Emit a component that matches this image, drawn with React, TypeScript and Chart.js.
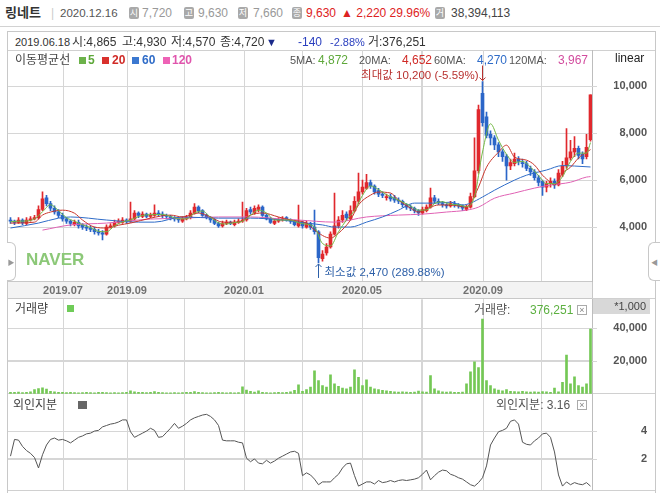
import React, { useEffect, useRef } from 'react';
import { Chart, registerables } from 'chart.js';

Chart.register(...registerables);

const FONT = "'Liberation Sans', 'Noto Sans CJK KR', Arial, sans-serif";

// ---------------- data (one entry per candle, ~2.8 trading days each) ----------------
const opens = [4300,4250,4200,4300,4150,4300,4350,4400,4750,5250,
 5000,4800,4650,4500,4350,4250,4100,4200,4100,4000,
 3950,3900,3800,3750,3700,4000,4050,4200,4200,4300,
 4250,4350,4600,4450,4550,4450,4500,4600,4550,4500,
 4450,4400,4350,4250,4350,4400,4600,4850,4700,4500,
 4400,4300,4150,4050,4150,4200,4100,4200,4250,4300,
 4750,4600,4750,4850,4500,4350,4150,4250,4300,4400,
 4300,4250,4050,4200,4000,4150,4000,3800,2650,2900,
 3150,3700,4050,4300,4550,4350,4700,5100,5500,5650,
 5900,5750,5550,5400,5250,5300,5250,5150,5100,4950,
 4850,4800,4700,4600,4700,4850,5250,5100,5000,4950,
 4900,5000,4950,4900,4750,4850,5300,6400,9700,8700,
 7950,7800,7500,7200,7000,6600,6700,6900,6750,6700,
 6500,6350,6100,5950,5700,5850,5950,5800,6250,6600,
 6950,7200,7350,7100,7000,7720];
const highs = [4400,4300,4400,4350,4400,4450,4500,4900,5500,5350,
 5100,4900,4750,4600,4400,4300,4300,4300,4150,4100,
 4050,4000,3900,3850,4100,4150,4300,4350,4400,4350,
 5060,4700,4650,4650,4600,4600,4950,4700,4650,4550,
 4500,4450,4400,4450,4500,4700,5000,4900,4750,4550,
 4450,4350,4200,4250,4300,4250,4300,4350,5060,4800,
 4850,4900,4950,4900,4550,4400,4350,4400,4450,4450,
 4350,4300,4940,4250,4250,4200,4720,3850,3000,3300,
 3800,5450,4450,4700,4650,4900,5300,6300,6000,6250,
 6000,5800,5650,5500,5400,5400,5350,5250,5150,5000,
 4950,4850,4750,4850,4950,5660,5350,5200,5100,5000,
 5100,5100,5000,4950,4950,5450,7800,9200,10200,8900,
 8100,7900,7600,7300,7100,6900,7150,7000,6900,6800,
 6600,6450,6200,6000,5950,6100,6050,6450,6800,8200,
 7700,7850,7450,7200,7950,9630];
const lows = [4150,4100,4150,4100,4100,4250,4300,4350,4700,4900,
 4700,4550,4400,4250,4150,4050,4050,3950,3900,3850,
 3800,3700,3650,3450,3650,3950,4000,4150,4150,4150,
 4200,4300,4400,4400,4400,4400,4450,4450,4400,4350,
 4300,4250,4200,4200,4300,4350,4550,4600,4450,4350,
 4200,4100,3980,4000,4100,4100,4050,4150,4200,4250,
 4550,4550,4650,4450,4300,4150,4100,4200,4250,4250,
 4150,4050,4000,3950,3950,3900,3700,2470,2550,2800,
 3100,3650,3950,4200,4300,4300,4650,5000,5400,5600,
 5650,5400,5300,5250,5150,5100,5050,5000,4850,4750,
 4700,4600,4500,4550,4650,4800,5000,4950,4850,4800,
 4850,4850,4800,4700,4700,4800,5250,6300,8300,7800,
 7500,7300,7000,6800,6000,6450,6600,6650,6550,6400,
 6200,6000,5750,5350,5500,5700,5650,5750,6150,6500,
 6850,7000,6900,6700,6900,7660];
const closes = [4250,4200,4300,4180,4300,4350,4400,4750,5200,5000,
 4800,4650,4500,4350,4250,4150,4200,4050,4000,3950,
 3900,3800,3750,3700,4000,4050,4200,4250,4300,4250,
 4350,4600,4500,4550,4450,4500,4600,4550,4500,4450,
 4400,4350,4300,4350,4400,4600,4850,4700,4500,4400,
 4300,4150,4050,4150,4200,4150,4200,4250,4300,4700,
 4650,4800,4850,4500,4350,4200,4250,4300,4350,4300,
 4250,4100,4200,4050,4150,4000,3800,2700,2850,3150,
 3700,4050,4300,4500,4400,4700,5100,5500,5700,5900,
 5750,5500,5400,5350,5300,5200,5150,5100,4950,4850,
 4800,4700,4600,4750,4850,5250,5100,5050,4950,4900,
 5000,4950,4900,4800,4850,5300,6400,9000,8450,7900,
 7800,7500,7200,7000,6600,6750,6900,6800,6700,6500,
 6350,6100,5900,5700,5850,5950,5800,6300,6600,6950,
 7200,7350,7050,6900,7400,9630];
// volume in thousands of shares
const volumes = [900,800,1000,700,900,1200,2500,3200,3600,2800,
 1500,1100,900,800,700,800,700,600,700,800,
 700,600,800,900,700,600,700,600,700,800,
 1800,1200,900,800,700,900,1300,800,700,600,
 600,700,600,700,800,900,1300,800,700,600,
 600,700,800,700,600,700,600,700,4200,2200,
 1500,1000,1800,900,700,600,700,800,700,900,
 1200,2000,5400,1500,2500,4000,14000,8000,5000,4000,
 11500,6000,4500,3500,3000,4000,14500,10000,5000,8500,
 4000,3000,2500,2000,1800,1500,1200,1000,1100,1000,
 900,1000,1600,1200,1000,11000,3000,1800,1200,1000,
 1100,900,800,1000,6000,13300,19400,16000,45500,8000,
 5000,3000,2200,1800,2500,1500,1300,1200,1400,1100,
 1000,1200,1000,1300,1100,900,3500,1200,7000,23600,
 6000,10300,5000,4000,6000,39400];
// foreign ownership %
const foreignPct = [2.2,3.4,3.35,2.9,2.6,2.4,2.1,1.35,2.3,3.0,
 3.4,3.5,3.35,3.4,3.3,3.15,3.35,3.55,3.65,3.8,
 3.85,4.0,4.05,4.3,4.4,4.5,4.55,4.65,4.8,4.8,
 3.95,3.55,3.7,3.85,4.0,4.2,4.05,3.55,3.6,3.9,
 4.2,4.55,4.2,4.35,4.55,4.8,4.95,5.05,5.15,5.2,
 5.05,4.8,4.4,3.35,3.3,3.3,3.3,3.2,3.15,2.05,
 1.8,2.0,1.7,1.65,1.9,1.7,1.85,2.05,2.2,2.35,
 2.5,2.55,2.4,0.8,1.0,0.85,0.55,0.15,0.35,0.35,
 0.35,0.65,0.9,1.35,1.65,1.7,0.8,0.05,0.2,0.35,
 0.35,0.2,0.45,0.3,0.35,0.45,0.35,0.45,0.5,0.45,
 0.5,0.55,0.65,0.9,1.2,0.5,0.8,1.05,1.2,1.15,
 0.9,0.8,0.65,0.55,0.35,0.15,0.05,0.3,0.65,1.5,
 3.0,3.5,3.95,4.05,4.2,4.7,4.8,4.5,3.2,3.05,
 3.0,3.3,3.5,3.8,3.85,3.55,2.5,0.85,0.05,0.35,
 0.15,0.3,0.2,0.15,0.3,0.05];

// moving averages as [candle index, value]
const ma5: [number, number][] = [[0,4230],[2,4250],[4,4260],[6,4350],[8,4650],[10,4950],[12,4700],[14,4400],[16,4250],[18,4100],[20,3980],[22,3820],[24,3800],[26,4050],[28,4220],[30,4300],[32,4450],[34,4520],[36,4530],[38,4540],[40,4450],[42,4350],[44,4350],[46,4600],[48,4680],[50,4420],[52,4180],[54,4130],[56,4190],[58,4250],[60,4500],[62,4720],[64,4600],[66,4300],[68,4300],[70,4300],[72,4180],[74,4120],[76,4000],[78,3300],[80,3200],[82,3800],[84,4300],[86,4700],[88,5350],[90,5750],[92,5600],[94,5380],[96,5220],[98,5070],[100,4900],[102,4720],[104,4730],[106,5000],[108,5080],[110,4970],[112,4950],[114,4870],[116,5300],[118,7200],[120,8400],[122,7700],[124,7100],[126,6750],[128,6800],[130,6550],[132,6200],[134,5850],[136,5850],[138,6150],[140,6800],[142,7150],[144,7150],[145,7600]];
const ma20: [number, number][] = [[0,4170],[6,4210],[8,4510],[10,4640],[13,4720],[16,4590],[18,4300],[21,4000],[24,3960],[27,4080],[30,4170],[35,4380],[40,4510],[43,4430],[47,4600],[50,4430],[53,4210],[57,4210],[60,4510],[63,4600],[67,4430],[70,4300],[74,4170],[76,3870],[80,3530],[82,3740],[85,4300],[87,4940],[90,5360],[92,5490],[95,5450],[97,5150],[100,4810],[102,4640],[105,4850],[107,4940],[110,4940],[114,4850],[115,5020],[117,5700],[119,6550],[122,7190],[124,7490],[126,6980],[129,6850],[131,6640],[133,6210],[135,5910],[136,5790],[138,6300],[140,6550],[142,6940],[144,7190],[145,7300]];
const ma60: [number, number][] = [[0,3960],[7,4170],[12,4380],[15,4430],[24,4300],[32,4210],[36,4210],[43,4430],[52,4380],[60,4380],[68,4300],[74,4170],[78,4090],[81,4000],[85,4000],[89,4210],[93,4430],[97,4720],[101,5020],[106,5020],[110,5060],[113,4940],[115,5020],[118,5280],[121,5570],[126,6000],[129,6210],[134,6430],[138,6620],[141,6600],[145,6560]];
const ma120: [number, number][] = [[8,3870],[15,4090],[24,4170],[32,4300],[35,4340],[43,4380],[52,4430],[60,4430],[68,4340],[72,4300],[81,4210],[89,4430],[97,4510],[103,4550],[109,4640],[114,4720],[117,4850],[121,5230],[126,5450],[131,5660],[135,5790],[140,5910],[144,6130],[145,6150]];

// month boundaries (in candle-index units) and their labels
const monthTickIndex = [13.125, 29.125, 43.375, 58.375, 72.875, 87.875, 102.875, 118.125, 132.625];
const monthTickLabel = ['2019.07', '2019.09', '', '2020.01', '', '2020.05', '', '2020.09', ''];
const priceTicks = [4000, 6000, 8000, 10000];
const volumeTicks = [20000, 40000];
const foreignTicks = [2, 4];

// ---------------- styling ----------------
const UP = '#e0282d';
const DOWN = '#2b66c8';
const C5 = '#72b843';
const C20 = '#c9352b';
const C60 = '#2f6cc8';
const C120 = '#e062b4';
const GRID = '#d6d6d6';
const AXIS = '#bdbdbd';
const X_MIN = -0.625;
const X_MAX = closes.length - 0.625;

const fmt = (v: number) => Number(v).toLocaleString('en-US');
const idx = closes.map((_, i) => i);

const xScale = (labels: boolean) => ({
  type: 'linear',
  min: X_MIN,
  max: X_MAX,
  offset: false,
  grid: { display: true, color: GRID, lineWidth: 1, drawTicks: false, offset: false },
  border: { display: false },
  ticks: {
    display: labels,
    autoSkip: false,
    maxRotation: 0,
    padding: 3,
    color: '#707070',
    font: { family: FONT, size: 11, weight: 'bold' },
    callback: (_v: number, i: number) => (labels ? monthTickLabel[i] ?? '' : ''),
  },
  afterBuildTicks: (s: any) => { s.ticks = monthTickIndex.map((value) => ({ value })); },
  afterFit: (s: any) => { s.height = labels ? 18 : 0; },
});

const yScale = (min: number, max: number, ticks: number[], format: (v: number) => string) => ({
  type: 'linear',
  position: 'right',
  min,
  max,
  grid: { display: true, color: GRID, lineWidth: 1, drawTicks: false },
  border: { display: true, color: AXIS },
  ticks: {
    color: '#555',
    font: { family: FONT, size: 11, weight: 'bold', lineHeight: 0.05 },
    crossAlign: 'far',
    padding: 0,
    autoSkip: false,
    callback: (v: number) => format(v),
  },
  afterBuildTicks: (s: any) => { s.ticks = ticks.map((value) => ({ value })); },
  afterFit: (s: any) => { s.width = 55; },
});

// grid lines + short tick marks, drawn from the scales' own ticks
const gridPlugin = {
  id: 'paneGrid',
  beforeDatasetsDraw(chart: any) {
    const { ctx, chartArea: a } = chart;
    const xs = chart.scales.x;
    const ys = chart.scales.y;
    ctx.save();
    ctx.strokeStyle = GRID;
    ctx.lineWidth = 1;
    ctx.beginPath();
    xs.ticks.forEach((t: any) => {
      const px = Math.round(xs.getPixelForValue(t.value)) + 0.5;
      ctx.moveTo(px, a.top);
      ctx.lineTo(px, a.bottom);
    });
    ys.ticks.forEach((t: any) => {
      const py = Math.round(ys.getPixelForValue(t.value)) + 0.5;
      ctx.moveTo(a.left, py);
      ctx.lineTo(a.right + 5, py);
    });
    ctx.stroke();
    ctx.restore();
  },
};

const baseOptions = {
  responsive: false,
  animation: false,
  events: [],
  plugins: { legend: { display: false }, tooltip: { enabled: false } },
};

const maLine = (pts: [number, number][], color: string) => ({
  type: 'line',
  data: pts.map(([x, y]) => ({ x, y })),
  borderColor: color,
  borderWidth: 1,
  pointRadius: 0,
  fill: false,
  cubicInterpolationMode: 'monotone',
  order: 1,
});

function drawArrow(ctx: CanvasRenderingContext2D, x: number, yFrom: number, yTo: number, color: string) {
  const d = yTo > yFrom ? 1 : -1;
  ctx.strokeStyle = color;
  ctx.lineWidth = 1;
  ctx.beginPath();
  ctx.moveTo(x, yFrom);
  ctx.lineTo(x, yTo);
  ctx.moveTo(x - 3, yTo - 3 * d);
  ctx.lineTo(x, yTo);
  ctx.lineTo(x + 3, yTo - 3 * d);
  ctx.stroke();
}

const extremesPlugin = {
  id: 'extremes',
  afterDatasetsDraw(chart: any) {
    const { ctx } = chart;
    const xs = chart.scales.x;
    const ys = chart.scales.y;
    const last = closes[closes.length - 1];
    const hi = Math.max(...highs);
    const lo = Math.min(...lows);
    const hiI = highs.indexOf(hi);
    const loI = lows.indexOf(lo);
    const pct = (v: number) => ((last - v) / v * 100).toFixed(2) + '%';
    ctx.save();
    ctx.font = `11.5px ${FONT}`;
    ctx.textBaseline = 'middle';
    const xh = xs.getPixelForValue(hiI);
    const yh = ys.getPixelForValue(hi);
    drawArrow(ctx, xh, yh - 16, yh - 1, '#b8312f');
    ctx.fillStyle = '#b8312f';
    ctx.textAlign = 'right';
    ctx.fillText(`최대값 ${fmt(hi)} (${pct(hi)})`, xh - 4, yh - 6);
    const xl = xs.getPixelForValue(loI);
    const yl = ys.getPixelForValue(lo);
    drawArrow(ctx, xl, yl + 15, yl + 1, '#2c5fa8');
    ctx.fillStyle = '#2c5fa8';
    ctx.textAlign = 'left';
    ctx.fillText(`최소값 ${fmt(lo)} (${pct(lo)})`, xl + 6, yl + 10);
    ctx.restore();
  },
};

function makePrice() {
  const colors = idx.map((i) => (closes[i] >= opens[i] ? UP : DOWN));
  return {
    type: 'bar',
    data: {
      datasets: [
        maLine(ma5, C5),
        maLine(ma20, C20),
        maLine(ma60, C60),
        maLine(ma120, C120),
        {
          type: 'bar',
          data: idx.map((i) => ({ x: i, y: [Math.min(opens[i], closes[i]), Math.max(opens[i], closes[i])] })),
          backgroundColor: colors,
          grouped: false,
          barPercentage: 1,
          categoryPercentage: 1,
          maxBarThickness: 3,
          borderWidth: 0,
          order: 5,
        },
        {
          type: 'bar',
          data: idx.map((i) => ({ x: i, y: [lows[i], highs[i]] })),
          backgroundColor: colors,
          grouped: false,
          barPercentage: 1,
          categoryPercentage: 1,
          maxBarThickness: 1,
          borderWidth: 0,
          order: 6,
        },
      ],
    },
    options: {
      ...baseOptions,
      scales: { x: xScale(true), y: yScale(1702, 11532, priceTicks, fmt) },
    },
    plugins: [gridPlugin, extremesPlugin],
  };
}

function makeVolume() {
  return {
    type: 'bar',
    data: {
      datasets: [
        {
          type: 'bar',
          data: idx.map((i) => ({ x: i, y: volumes[i] })),
          backgroundColor: '#74c855',
          grouped: false,
          barPercentage: 1,
          categoryPercentage: 1,
          maxBarThickness: 2,
          borderWidth: 0,
        },
      ],
    },
    options: {
      ...baseOptions,
      scales: { x: xScale(false), y: yScale(0, 57600, volumeTicks, fmt) },
    },
    plugins: [gridPlugin],
  };
}

function makeForeign() {
  return {
    type: 'line',
    data: {
      datasets: [
        {
          data: idx.map((i) => ({ x: i, y: foreignPct[i] })),
          borderColor: '#555',
          borderWidth: 1,
          pointRadius: 0,
          fill: false,
        },
      ],
    },
    options: {
      ...baseOptions,
      scales: { x: xScale(false), y: yScale(-0.21, 6.64, foreignTicks, (v) => String(v)) },
    },
    plugins: [gridPlugin],
  };
}

function ChartCanvas({ left, top, width, height, make }: any) {
  const ref = useRef<HTMLCanvasElement>(null);
  useEffect(() => {
    const chart = new Chart(ref.current as HTMLCanvasElement, make());
    return () => chart.destroy();
  }, []);
  return (
    <canvas ref={ref} width={width} height={height}
      style={{ position: 'absolute', left, top, width, height }} />
  );
}

// ---------------- small overlay helpers ----------------
const T = ({ x, y, c = '#333', s = 12, b = false, children }: any) => (
  <span style={{ position: 'absolute', left: x, top: y - 8, height: 16, lineHeight: '16px', fontSize: s,
    fontWeight: b ? 700 : 400, color: c, whiteSpace: 'nowrap' }}>{children}</span>
);
const Badge = ({ x, y, ch }: any) => (
  <span style={{ position: 'absolute', left: x, top: y - 6, width: 10, height: 12, borderRadius: 2,
    background: '#a9a9a9', color: '#fff', fontSize: 9, lineHeight: '12px', textAlign: 'center' }}>{ch}</span>
);
const Sq = ({ x, y, w = 7, h = 7, c }: any) => (
  <span style={{ position: 'absolute', left: x, top: y, width: w, height: h, background: c }} />
);
const CloseBox = ({ x, y }: any) => (
  <span style={{ position: 'absolute', left: x, top: y, width: 10, height: 10, border: '1px solid #aaa',
    boxSizing: 'border-box', fontSize: 9, lineHeight: '8px', textAlign: 'center', color: '#888', background: '#fff' }}>×</span>
);
const HLine = ({ x, y, w, c = '#d0d0d0' }: any) => (
  <div style={{ position: 'absolute', left: x, top: y, width: w, height: 1, background: c }} />
);

export default function App() {
  return (
    <div style={{ position: 'absolute', left: 0, top: 0, width: 660, height: 493, overflow: 'hidden',
      background: '#fff', fontFamily: FONT }}>
      {/* panel frame and pane separators (behind the charts) */}
      <div style={{ position: 'absolute', left: 7, top: 31, width: 649, height: 470, border: '1px solid #c8c8c8',
        boxSizing: 'border-box' }} />
      <HLine x={8} y={50} w={647} c="#d0d0d0" />
      <div style={{ position: 'absolute', left: 8, top: 281, width: 585, height: 18, background: '#f3f3f3',
        borderTop: '1px solid #c8c8c8', borderBottom: '1px solid #c8c8c8', borderRight: '1px solid #c8c8c8', boxSizing: 'border-box' }} />
      <HLine x={592} y={298} w={63} c="#d0d0d0" />
      <HLine x={8} y={393} w={647} c="#d0d0d0" />
      <HLine x={8} y={490} w={647} c="#d0d0d0" />

      {/* charts */}
      <ChartCanvas left={8} top={50} width={639} height={249} make={makePrice} />
      <ChartCanvas left={8} top={299} width={639} height={95} make={makeVolume} />
      <ChartCanvas left={8} top={394} width={639} height={96} make={makeForeign} />

      {/* header */}
      <T x={5} y={13} s={13} b c="#333">링네트</T>
      <T x={51} y={13} c="#ccc">|</T>
      <T x={60} y={13} s={11.5} c="#555">2020.12.16</T>
      <Badge x={129} y={13} ch="시" />
      <T x={142} y={13} c="#999">7,720</T>
      <Badge x={184} y={13} ch="고" />
      <T x={198} y={13} c="#999">9,630</T>
      <Badge x={238} y={13} ch="저" />
      <T x={253} y={13} c="#999">7,660</T>
      <Badge x={292} y={13} ch="종" />
      <T x={306} y={13} c="#d22">9,630</T>
      <T x={341} y={13} c="#d22">▲ 2,220 29.96%</T>
      <Badge x={435} y={13} ch="거" />
      <T x={451} y={13} c="#444">38,394,113</T>
      <HLine x={0} y={26} w={660} c="#d2d2d2" />

      {/* info row */}
      <T x={15} y={42} s={11}>2019.06.18</T>
      <T x={72} y={42}>시:4,865</T>
      <T x={122} y={42}>고:4,930</T>
      <T x={171} y={42}>저:4,570</T>
      <T x={220} y={42}>종:4,720</T>
      <T x={266} y={42} c="#1a2a8a" s={11}>▼</T>
      <T x={298} y={42} c="#2a3fbf">-140</T>
      <T x={330} y={42} s={11} c="#2a3fbf">-2.88%</T>
      <T x={368} y={42}>거:376,251</T>

      {/* price pane legend */}
      <T x={15} y={60} c="#444">이동평균선</T>
      <Sq x={79} y={57} c="#6cb24a" />
      <T x={88} y={60} c="#5ea83a" b>5</T>
      <Sq x={102} y={57} c="#d9312d" />
      <T x={112} y={60} c="#d02a26" b>20</T>
      <Sq x={132} y={57} c="#3b78d0" />
      <T x={142} y={60} c="#2f6cc8" b>60</T>
      <Sq x={163} y={57} c="#ee62b6" />
      <T x={172} y={60} c="#e055ad" b>120</T>
      <T x={290} y={60} s={11} c="#555">5MA:</T>
      <T x={318} y={60} c="#5ea83a">4,872</T>
      <T x={359} y={60} s={11} c="#555">20MA:</T>
      <T x={402} y={60} c="#d02a26">4,652</T>
      <T x={434} y={60} s={11} c="#555">60MA:</T>
      <T x={477} y={60} c="#2f6cc8">4,270</T>
      <T x={509} y={60} s={11} c="#555">120MA:</T>
      <T x={558} y={60} c="#d24c9e">3,967</T>
      <T x={615} y={58} c="#222">linear</T>
      <div style={{ position: 'absolute', left: 26, top: 250, fontSize: 17, fontWeight: 700, color: '#8cc878',
        lineHeight: '20px', fontFamily: "'Liberation Sans', Arial, sans-serif" }}>NAVER</div>

      {/* side handles */}
      <div style={{ position: 'absolute', left: 7, top: 242, width: 9, height: 39, background: '#fff',
        border: '1px solid #c8c8c8', borderLeft: 'none', borderRadius: '0 6px 6px 0', boxSizing: 'border-box',
        fontSize: 7, color: '#999', lineHeight: '39px', textAlign: 'center' }}>▶</div>
      <div style={{ position: 'absolute', left: 648, top: 242, width: 12, height: 39, background: '#fff',
        border: '1px solid #c8c8c8', borderRight: 'none', borderRadius: '6px 0 0 6px', boxSizing: 'border-box',
        fontSize: 7, color: '#999', lineHeight: '39px', textAlign: 'center' }}>◀</div>

      {/* volume pane labels */}
      <T x={15} y={309} c="#444">거래량</T>
      <Sq x={67} y={305} c="#6fcc58" />
      <T x={474} y={310} c="#555">거래량:</T>
      <T x={530} y={310} c="#5cb040">376,251</T>
      <CloseBox x={577} y={305} />
      <div style={{ position: 'absolute', left: 593, top: 299, width: 57, height: 15, background: '#d8d8d8',
        fontSize: 11, color: '#444', lineHeight: '15px', textAlign: 'right', paddingRight: 4, boxSizing: 'border-box' }}>*1,000</div>

      {/* foreign pane labels */}
      <T x={13} y={405} c="#444">외인지분</T>
      <Sq x={78} y={401} w={9} h={8} c="#666" />
      <T x={496} y={405} c="#555">외인지분: 3.16</T>
      <CloseBox x={577} y={400} />
    </div>
  );
}
